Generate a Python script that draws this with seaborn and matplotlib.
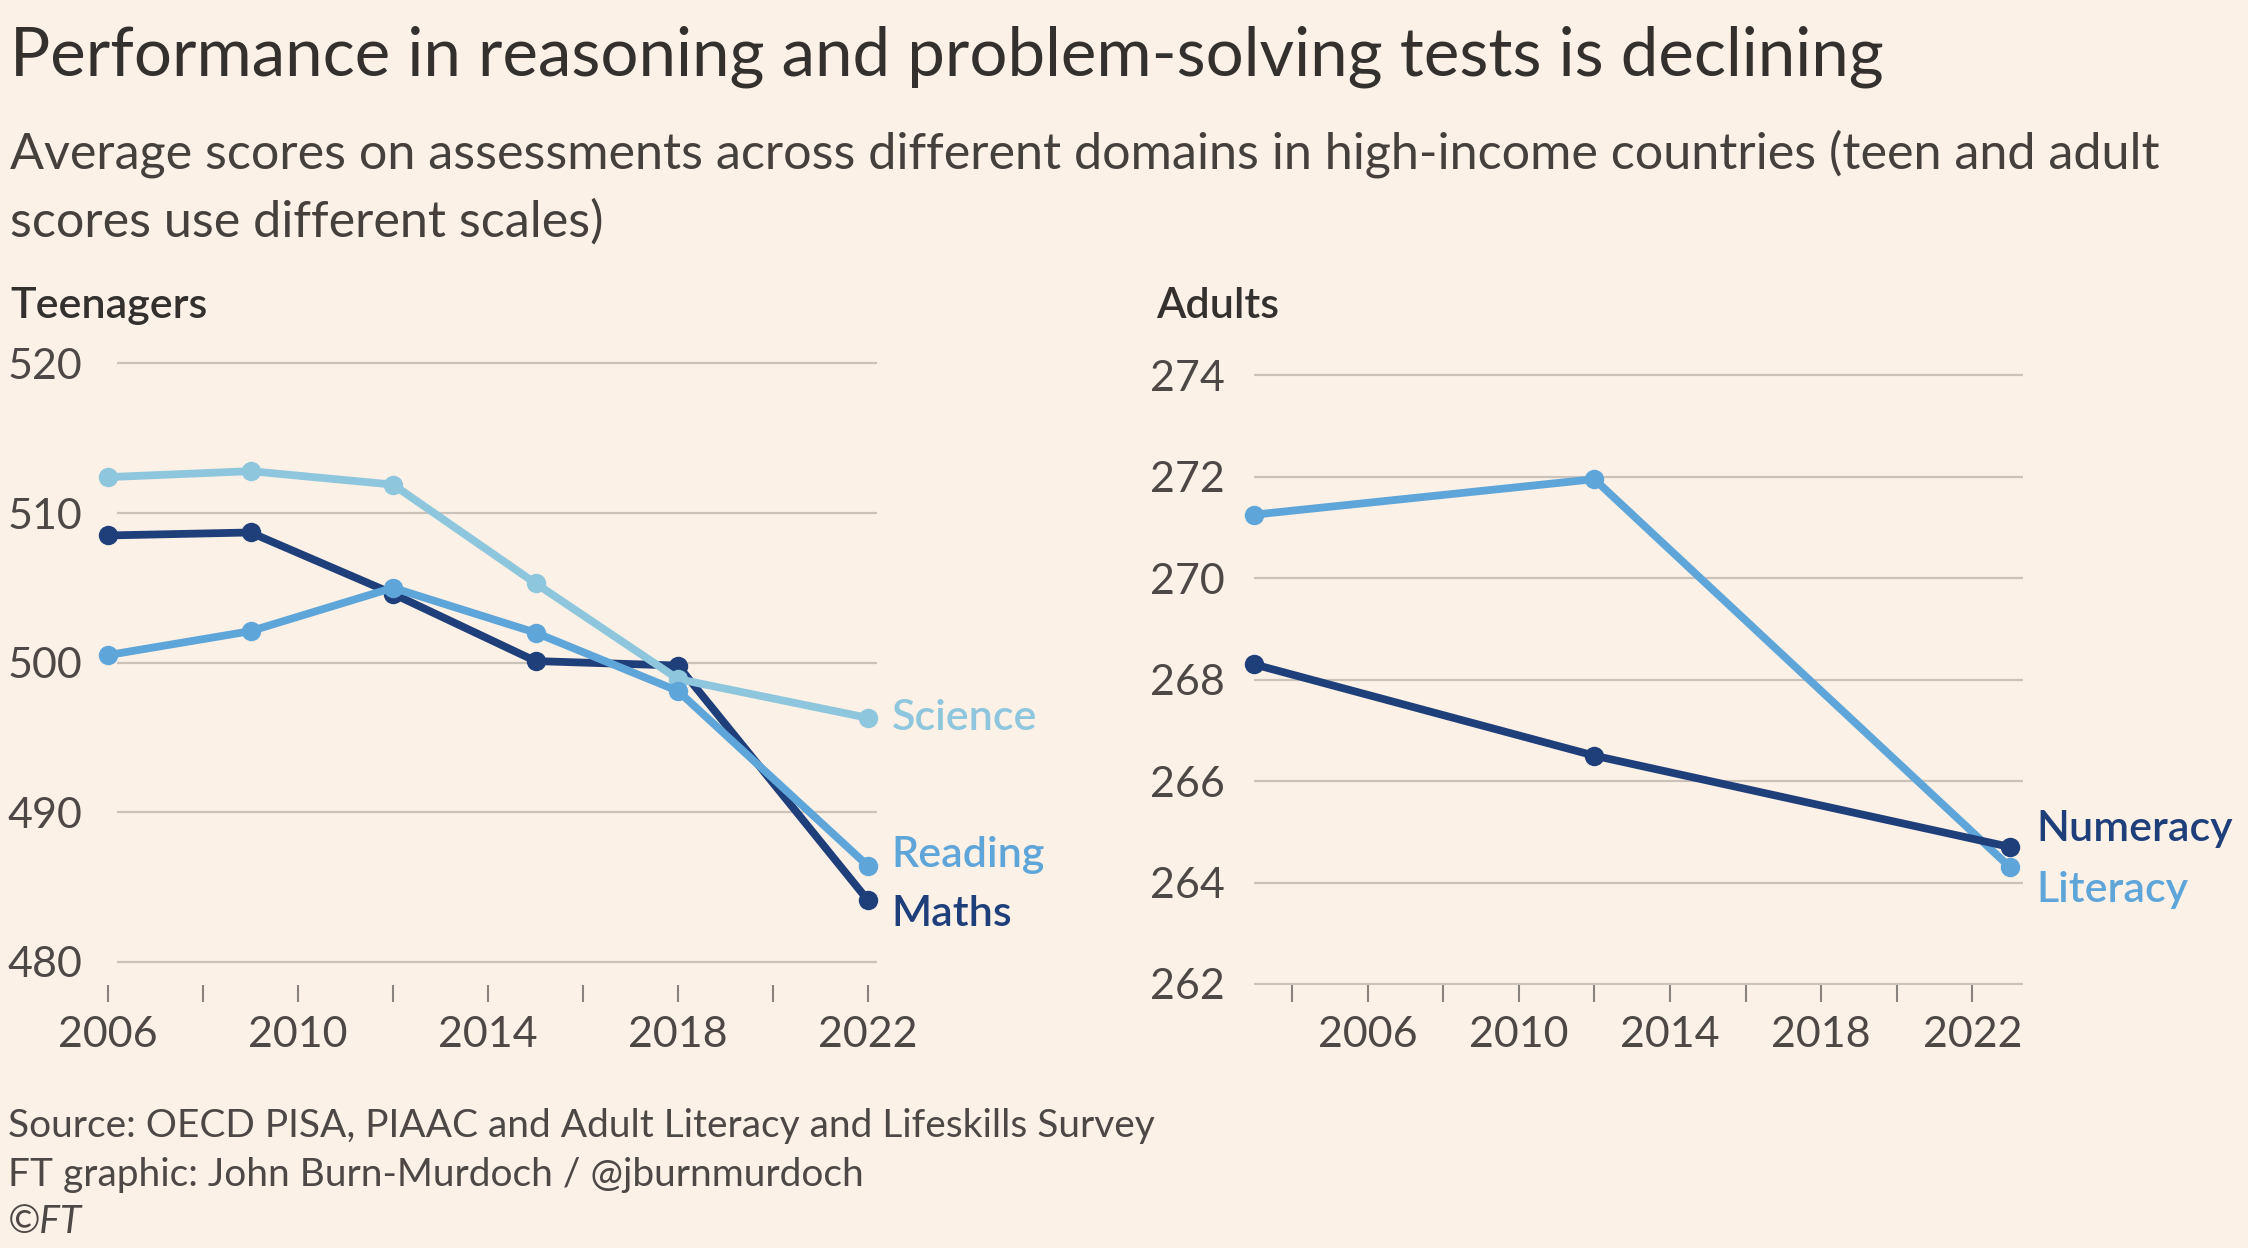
import matplotlib
matplotlib.use("Agg")
import matplotlib.pyplot as plt
import seaborn as sns
import pandas as pd

# TEENAGERS (PISA)
teen_years = [2006, 2009, 2012, 2015, 2018, 2022]
maths = [508.5, 508.7, 504.6, 500.1, 499.8, 484.1]
science = [512.4, 512.8, 511.9, 505.3, 498.9, 496.3]
reading = [500.5, 502.1, 505.0, 502.0, 498.1, 486.4]

# ADULTS (ALL 2003, PIAAC 2012 / 2023)
adult_years = [2003, 2012, 2023]
literacy = [271.25, 271.95, 264.3]
numeracy = [268.3, 266.5, 264.7]

teen_yticks = [480, 490, 500, 510, 520]
adult_yticks = [262, 264, 266, 268, 270, 272, 274]
teen_xticks = list(range(2006, 2023, 2))
adult_xticks = list(range(2004, 2023, 2))
xlabelled = [2006, 2010, 2014, 2018, 2022]

colors = {'Maths': '#1f3f7b', 'Science': '#8ec6de', 'Reading': '#5ea5da',
          'Numeracy': '#1f3f7b', 'Literacy': '#5ea5da'}

BG = '#fcf1e6'
DARK = '#33302e'
GREY = '#4d4845'
GRID = '#cbc2b9'
W, H = 2248, 1248

sns.set_style("white")
plt.rcParams['font.family'] = ['Lato', 'DejaVu Sans']

teen_df = pd.DataFrame({'year': teen_years * 3,
                        'score': maths + science + reading,
                        'subject': ['Maths'] * 6 + ['Science'] * 6 + ['Reading'] * 6})
adult_df = pd.DataFrame({'year': adult_years * 2,
                         'score': literacy + numeracy,
                         'subject': ['Literacy'] * 3 + ['Numeracy'] * 3})

fig = plt.figure(figsize=(W / 100, H / 100), dpi=100, facecolor=BG)


def box(l, t, r, b):
    # pixel box (from top-left) -> figure fraction
    return [l / W, 1 - b / H, (r - l) / W, (b - t) / H]


def ftext(x, y, s, **kw):
    return fig.text(x / W, 1 - y / H, s, va='baseline', ha='left', **kw)


def fit(txt, width_px):
    r = fig.canvas.get_renderer()
    w = txt.get_window_extent(r).width
    txt.set_fontsize(txt.get_fontsize() * width_px / w)


ax1 = fig.add_axes(box(89, 356, 887, 985))
ax2 = fig.add_axes(box(1239, 365, 2029, 985))

line_kw = dict(marker='o', markersize=14, markeredgewidth=0, linewidth=5.6, legend=False)
sns.lineplot(data=teen_df, x='year', y='score', hue='subject',
             hue_order=['Maths', 'Science', 'Reading'], palette=colors, ax=ax1, **line_kw)
sns.lineplot(data=adult_df, x='year', y='score', hue='subject',
             hue_order=['Literacy', 'Numeracy'], palette=colors, ax=ax2, **line_kw)

setup = [(ax1, (2005.6, 2022.4), (478.44, 520.5), teen_yticks, teen_xticks, (2006.18, 2022.18), 5),
         (ax2, (2002.6, 2023.5), (261.98, 274.2), adult_yticks, adult_xticks, (2003.0, 2023.35), 10)]
for ax, xl, yl, yt, xt, gx, ypad in setup:
    ax.set_facecolor(BG)
    ax.set_xlim(*xl)
    ax.set_ylim(*yl)
    ax.hlines(yt, gx[0], gx[1], color=GRID, lw=1.6, zorder=0)
    ax.set_yticks(yt)
    ax.set_yticklabels([str(v) for v in yt])
    ax.set_xticks(xt)
    ax.set_xticklabels([str(v) if v in xlabelled else '' for v in xt])
    ax.tick_params(axis='x', bottom=True, length=12, width=1.5, color='#8a837d', pad=10,
                   labelsize=31, labelcolor=GREY, direction='out')
    ax.tick_params(axis='y', left=False, length=0, pad=ypad, labelsize=31, labelcolor=GREY)
    ax.set_xlabel('')
    ax.set_ylabel('')
    for s in ax.spines.values():
        s.set_visible(False)

# direct labels at the line ends
lab_kw = dict(textcoords='offset points', ha='left', va='center',
              fontsize=31, weight='semibold')
ax1.annotate('Science', (teen_years[-1], science[-1]), xytext=(17, 0), color=colors['Science'], **lab_kw)
ax1.annotate('Reading', (teen_years[-1], reading[-1]), xytext=(17, 8), color=colors['Reading'], **lab_kw)
ax1.annotate('Maths', (teen_years[-1], maths[-1]), xytext=(17, -10), color=colors['Maths'], **lab_kw)
ax2.annotate('Numeracy', (adult_years[-1], numeracy[-1]), xytext=(19, 13), color=colors['Numeracy'], **lab_kw)
ax2.annotate('Literacy', (adult_years[-1], literacy[-1]), xytext=(19, -16), color=colors['Literacy'], **lab_kw)

# titles and notes
title = ftext(10, 76, 'Performance in reasoning and problem-solving tests is declining',
              fontsize=44, color=DARK)
sub1 = ftext(10, 169, 'Average scores on assessments across different domains in high-income countries (teen and adult',
             fontsize=30, color='#45403c')
sub2 = ftext(10, 237, 'scores use different scales)', fontsize=30, color='#45403c')
ftext(10, 318, 'Teenagers', fontsize=31, weight='semibold', color=DARK)
ftext(1156, 318, 'Adults', fontsize=31, weight='semibold', color=DARK)
src = ftext(8, 1137, 'Source: OECD PISA, PIAAC and Adult Literacy and Lifeskills Survey',
            fontsize=26, color=GREY)
cred = ftext(8, 1186, 'FT graphic: John Burn-Murdoch / @jburnmurdoch', fontsize=26, color=GREY)
ft = ftext(8, 1233, '©FT', fontsize=26, color=GREY, style='italic')

fit(title, 1875)
fit(sub1, 2150)
sub2.set_fontsize(sub1.get_fontsize())
fit(src, 1144)
cred.set_fontsize(src.get_fontsize())
ft.set_fontsize(src.get_fontsize())

fig.savefig('out.png', dpi=100, facecolor=BG)
